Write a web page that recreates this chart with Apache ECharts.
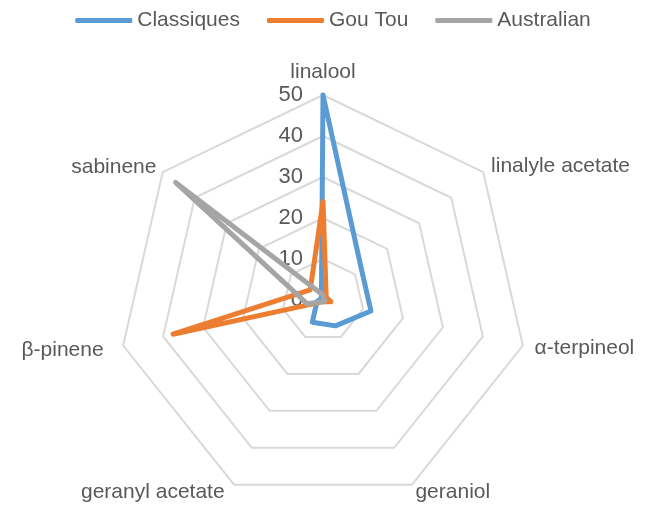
<!DOCTYPE html>
<html>
<head>
<meta charset="utf-8">
<script src="https://cdn.jsdelivr.net/npm/echarts@6/dist/echarts.min.js"></script>
<style>
html,body{margin:0;padding:0;background:#fff;}
#chart{width:666px;height:505px;}
</style>
</head>
<body>
<div id="chart"></div>
<script>
// Reference order (clockwise from top)
const indicators = ['linalool', 'linalyle acetate', 'α-terpineol', 'geraniol', 'geranyl acetate', 'β-pinene', 'sabinene'];
const classiques = [50, 12, 12, 7, 6, 1.5, 0.5];
const gouTou = [24, 1, 2, 0.5, 0.5, 37.5, 4];
const australian = [1.2, 0.3, 0.5, 0.5, 0.5, 4, 46];
const seriesNames = ['Classiques', 'Gou Tou', 'Australian'];
const colors = ['#5B9BD5', '#ED7D31', '#A5A5A5'];
const axisMax = 50;

// ECharts radar runs counter-clockwise; reorder so the picture runs clockwise
const order = [0, 6, 5, 4, 3, 2, 1];

const FONT = 'Liberation Sans';
const nameLayout = [
  {gap: 12, align: 'center', va: 'bottom', pad: 0},
  {gap: 10, align: 'left', va: 'middle', pad: 0},
  {gap: 12, align: 'left', va: 'middle', pad: 0},
  {gap: 8, align: 'left', va: 'middle', pad: 0},
  {gap: 8, align: 'right', va: 'middle', pad: [0, 6, 0, 0]},
  {gap: 20, align: 'right', va: 'middle', pad: 0},
  {gap: 8, align: 'right', va: 'middle', pad: 0}
];

const indicatorOpts = order.map((i, k) => {
  const o = {
    name: indicators[i], min: 0, max: axisMax,
    nameGap: nameLayout[i].gap,
    nameTextStyle: {align: nameLayout[i].align, verticalAlign: nameLayout[i].va, padding: nameLayout[i].pad}
  };
  if (k === 0) {
    o.axisLabel = {show: true, color: '#595959', fontSize: 22, fontFamily: FONT, margin: 20};
  }
  return o;
});

const chart = echarts.init(document.getElementById('chart'));
const dataSets = [classiques, gouTou, australian];
chart.setOption({
  animation: false,
  color: colors,
  legend: {
    top: 5,
    left: 'center',
    itemWidth: 57,
    itemHeight: 5,
    itemGap: 27,
    icon: 'roundRect',
    textStyle: {color: '#595959', fontSize: 21, fontFamily: FONT},
    data: seriesNames
  },
  radar: {
    center: [323, 300],
    radius: 205,
    startAngle: 90,
    splitNumber: 5,
    shape: 'polygon',
    indicator: indicatorOpts,
    axisName: {color: '#595959', fontSize: 21, fontFamily: FONT},
    axisLine: {show: false},
    axisTick: {show: false},
    axisLabel: {show: false},
    splitLine: {lineStyle: {color: '#D9D9D9', width: 2}},
    splitArea: {show: false}
  },
  series: [{
    type: 'radar',
    symbol: 'none',
    data: dataSets.map((d, i) => ({
      name: seriesNames[i],
      value: order.map(j => d[j]),
      lineStyle: {color: colors[i], width: 5, cap: 'round', join: 'round'},
      itemStyle: {color: colors[i]}
    }))
  }]
});
</script>
</body>
</html>
